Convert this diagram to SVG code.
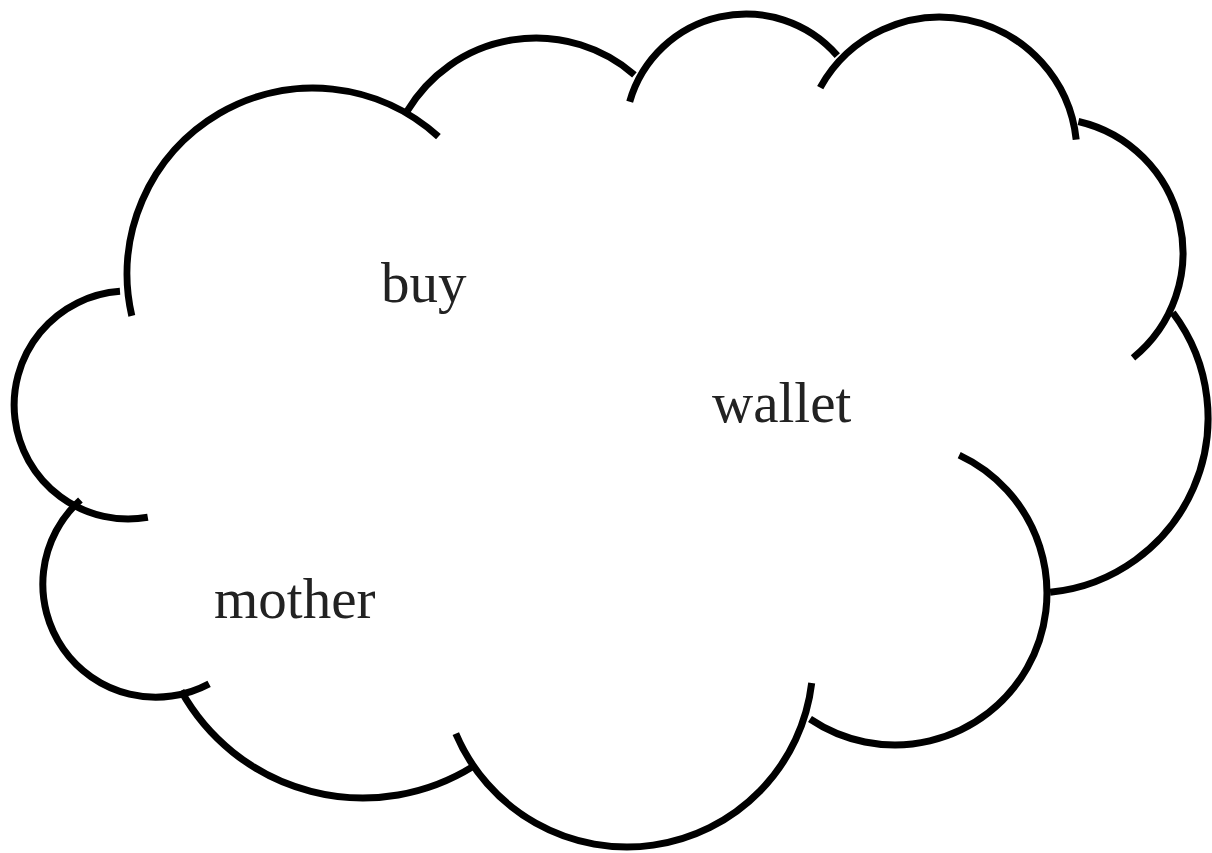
<svg xmlns="http://www.w3.org/2000/svg" width="1212" height="853" viewBox="0 0 1212 853">
  <style>
    .arc { fill: none; stroke: #000; stroke-width: 7; stroke-linecap: butt; }
    .word { font-family: "Liberation Serif", "Times New Roman", serif; font-size: 57px; fill: #222; }
  </style>
  <rect width="1212" height="853" fill="#fff"/>
  <g id="cloud">
    <path class="arc" d="M131.8,315.9 A186,186 0 0 1 438.4,136.7"/>
    <path class="arc" d="M407.4,110.8 A150,150 0 0 1 634.4,74.8"/>
    <path class="arc" d="M629.7,101.7 A121,121 0 0 1 837.3,55.6"/>
    <path class="arc" d="M820.2,87.6 A137,137 0 0 1 1076.2,139.7"/>
    <path class="arc" d="M1078.4,121.5 A135,135 0 0 1 1133,357.9"/>
    <path class="arc" d="M1172.8,312.7 A175,175 0 0 1 1050.1,592.2"/>
    <path class="arc" d="M959.2,455.2 A152,152 0 1 1 810,719"/>
    <path class="arc" d="M811.7,683 A186,186 0 0 1 455.8,733.7"/>
    <path class="arc" d="M473.2,766.4 A208,208 0 0 1 181.1,690.8"/>
    <path class="arc" d="M209.1,683.8 A113,113 0 0 1 80.4,500"/>
    <path class="arc" d="M147.8,517.3 A114,114 0 1 1 120,291.3"/>
  </g>
  <g id="node-buy"><text class="word" x="381" y="302">buy</text></g>
  <g id="node-wallet"><text class="word" x="712" y="422">wallet</text></g>
  <g id="node-mother"><text class="word" x="214" y="618">mother</text></g>
</svg>
